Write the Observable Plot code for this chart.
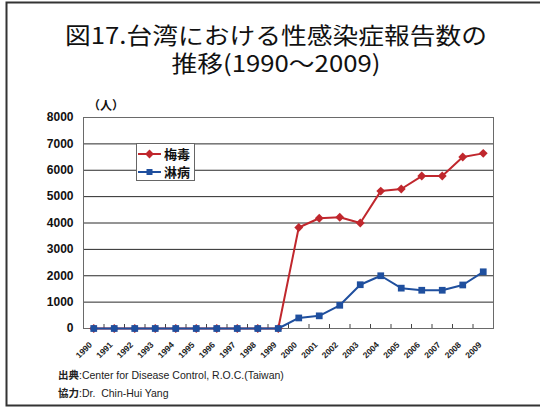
<!DOCTYPE html>
<html>
<head>
<meta charset="utf-8">
<script src="https://cdn.jsdelivr.net/npm/d3@7"></script>
<script src="https://cdn.jsdelivr.net/npm/@observablehq/plot@0.6"></script>
<style>
  html, body { margin: 0; padding: 0; background: #fff; }
  #wrap { position: relative; width: 540px; height: 408px; overflow: hidden; background: #fff; }
  #wrap > svg { position: absolute; left: 0; top: 0; }
</style>
</head>
<body>
<div id="wrap"></div>
<script>
const years = [1990, 1991, 1992, 1993, 1994, 1995, 1996, 1997, 1998, 1999,
               2000, 2001, 2002, 2003, 2004, 2005, 2006, 2007, 2008, 2009];
const syphilis = [0, 0, 0, 0, 0, 0, 0, 0, 0, 0,
                  3830, 4180, 4220, 4000, 5210, 5290, 5780, 5780, 6500, 6640];
const gonorrhea = [0, 0, 0, 0, 0, 0, 0, 0, 0, 0,
                   400, 480, 880, 1660, 2000, 1530, 1450, 1450, 1650, 2150];
const yTicks = [0, 1000, 2000, 3000, 4000, 5000, 6000, 7000, 8000];
const seriesNames = ["梅毒", "淋病"];
const titleLines = ["図17.台湾における性感染症報告数の", "推移(1990～2009)"];
const unitLabel = "（人）";
const sourceLabel = ["出典", ":Center for Disease Control, R.O.C.(Taiwan)"];
const creditLabel = ["協力", ":Dr.\u00a0\u00a0Chin-Hui Yang"];

const red = "#c0272d";
const blue = "#1f4f9e";

const rows = years.map((yr, i) => ({year: yr, syphilis: syphilis[i], gonorrhea: gonorrhea[i]}));
const boundaries = years.slice(1).map(y => y - 0.5);

const chart = Plot.plot({
  width: 540,
  height: 408,
  marginTop: 117,
  marginBottom: 80,
  marginLeft: 83,
  marginRight: 47,
  style: {fontFamily: "Arial, 'Liberation Sans', sans-serif", background: "transparent"},
  x: {domain: [years[0] - 0.5, years[years.length - 1] + 0.5], axis: null},
  y: {domain: [0, 8000], axis: null},
  marks: [
    Plot.ruleY(yTicks, {stroke: "#2a2a2a", strokeWidth: 1}),
    Plot.frame({stroke: "#6a6a6a", strokeWidth: 1}),
    Plot.ruleX(boundaries, {x: d => d, y1: 0, y2: 0, insetTop: -4, stroke: "#444"}),
    Plot.axisY({ticks: yTicks, tickSize: 0, tickPadding: 10, tickFormat: d => String(d),
                fontSize: 12, fontWeight: "bold", fill: "#111", label: null}),
    Plot.text(years, {x: d => d, y: 0, text: d => String(d), rotate: -45, textAnchor: "end",
                      dx: -3, dy: 15, fontSize: 8.5, fontWeight: "bold", fill: "#222"}),
    Plot.line(rows, {x: "year", y: "syphilis", stroke: red, strokeWidth: 2}),
    Plot.dot(rows, {x: "year", y: "syphilis", symbol: "diamond2", r: 4, fill: red, stroke: "none"}),
    Plot.line(rows, {x: "year", y: "gonorrhea", stroke: blue, strokeWidth: 2}),
    Plot.dot(rows, {x: "year", y: "gonorrhea", symbol: "square", r: 3.8, fill: blue, stroke: "none"})
  ]
});

const wrap = document.getElementById("wrap");
wrap.appendChild(chart);

// overlay for titles, legend, captions
const ov = d3.select(wrap).append("svg")
  .attr("width", 540).attr("height", 408)
  .style("pointer-events", "none");

// page border
ov.append("path")
  .attr("d", "M540,2.5H6.5V405.5H540")
  .attr("fill", "none").attr("stroke", "#333").attr("stroke-width", 2);

const cjk = "'Noto Sans CJK JP', 'Noto Sans', sans-serif";
[[titleLines[0], 44], [titleLines[1], 72]].forEach(([txt, base]) => {
  ov.append("text")
    .attr("transform", `translate(276,${base}) scale(1.12,1)`)
    .attr("text-anchor", "middle")
    .attr("font-family", cjk).attr("font-size", 23).attr("fill", "#111").text(txt);
});

ov.append("text").attr("x", 106).attr("y", 110).attr("text-anchor", "middle")
  .attr("font-family", cjk).attr("font-size", 12).attr("font-weight", "bold").attr("fill", "#111").text(unitLabel);

// legend
const lg = ov.append("g");
lg.append("rect").attr("x", 136.5).attr("y", 143.5).attr("width", 58).attr("height", 37)
  .attr("fill", "#fff").attr("stroke", "#666");
const legendItems = [
  {name: seriesNames[0], color: red, sym: d3.symbolDiamond2, size: 50, y: 154},
  {name: seriesNames[1], color: blue, sym: d3.symbolSquare, size: 36, y: 172}
];
legendItems.forEach(it => {
  lg.append("line").attr("x1", 138).attr("x2", 161).attr("y1", it.y).attr("y2", it.y)
    .attr("stroke", it.color).attr("stroke-width", 2);
  lg.append("path").attr("d", d3.symbol(it.sym, it.size)()).attr("transform", `translate(149.5,${it.y})`)
    .attr("fill", it.color);
  lg.append("text").attr("x", 164).attr("y", it.y + 5).attr("font-family", cjk)
    .attr("font-size", 13).attr("font-weight", "bold").attr("fill", "#111").text(it.name);
});

// captions
function caption(parts, y) {
  const t = ov.append("text").attr("x", 58).attr("y", y).attr("fill", "#222").attr("font-size", 10.5);
  t.append("tspan").attr("font-family", cjk).attr("font-weight", "bold").text(parts[0]);
  t.append("tspan").attr("font-family", "Arial, 'Liberation Sans', sans-serif").text(parts[1]);
}
caption(sourceLabel, 379);
caption(creditLabel, 397);
</script>
</body>
</html>
